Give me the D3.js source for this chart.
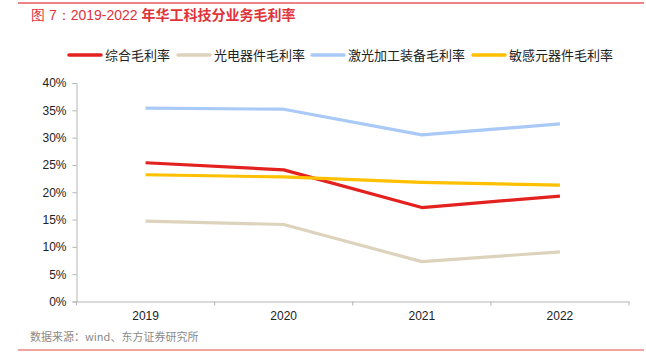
<!DOCTYPE html>
<html><head><meta charset="utf-8">
<script src="https://cdn.jsdelivr.net/npm/d3@7/dist/d3.min.js"></script>
<style>body{margin:0;background:#fff;}svg{display:block;font-family:"Noto Sans CJK SC","Liberation Sans",Arial,sans-serif;}</style>
</head><body><svg id="c" width="646" height="357"></svg>
<script>
const categories = ["2019","2020","2021","2022"];
const seriesNames = ["综合毛利率","光电器件毛利率","激光加工装备毛利率","敏感元器件毛利率"];
const seriesColors = ["#e3211e","#ddd3bc","#a9c9f7","#ffc000"];
const zonghe = [25.4, 24.1, 17.2, 19.3];
const guangdian = [14.7, 14.1, 7.3, 9.1];
const jiguang = [35.4, 35.2, 30.5, 32.5];
const mingan = [23.2, 22.8, 21.8, 21.3];
const yTicks = [0,5,10,15,20,25,30,35,40];
const series = [zonghe, guangdian, jiguang, mingan];

const svg = d3.select("#c");
// top & bottom rules
svg.append("line").attr("x1",18).attr("x2",644).attr("y1",3).attr("y2",3).attr("stroke","#e85a5a").attr("stroke-width",1.5);
svg.append("line").attr("x1",18).attr("x2",644).attr("y1",350).attr("y2",350).attr("stroke","#f2a3a0").attr("stroke-width",2);
const title = svg.append("text").attr("x",31).attr("y",20).attr("fill","#e0333a").attr("font-size",14);
title.append("tspan").attr("font-family","Liberation Sans, Arial, sans-serif").text("图 7：2019-2022 ");
title.append("tspan").attr("font-weight","bold").text("年华工科技分业务毛利率");
svg.append("text").attr("x",30).attr("y",341).attr("fill","#8a8a8a").attr("font-size",11).text("数据来源：wind、东方证券研究所");

const x = d3.scaleBand().domain(categories).range([76.5,629]);
const y = d3.scaleLinear().domain([0,40]).range([301.5,83]);

const gx = svg.append("g").attr("transform","translate(0,301.5)")
  .call(d3.axisBottom(x).tickSize(0).tickPadding(10));
gx.select(".domain").attr("stroke","#b5b5b5");
gx.selectAll("text").attr("font-size",12).attr("fill","#222").attr("font-family","Liberation Sans, Arial, sans-serif");
// category boundary ticks
const bounds = categories.map(c=>x(c)).concat([x.range()[1]]);
gx.selectAll(".bt").data(bounds).enter().append("line").attr("x1",d=>d).attr("x2",d=>d).attr("y1",0).attr("y2",4).attr("stroke","#b5b5b5");

const gy = svg.append("g").attr("transform","translate(76.5,0)")
  .call(d3.axisLeft(y).tickValues(yTicks).tickFormat(d=>d+"%").tickSize(4).tickPadding(6));
gy.select(".domain").attr("stroke","#b5b5b5");
gy.selectAll(".tick line").attr("stroke","#b5b5b5");
gy.selectAll("text").attr("font-size",12).attr("fill","#222").attr("font-family","Liberation Sans, Arial, sans-serif");

const line = d3.line().x((d,i)=>x(categories[i])+x.bandwidth()/2).y(d=>y(d));
series.forEach((s,k)=>{
  svg.append("path").datum(s).attr("d",line).attr("fill","none").attr("stroke",seriesColors[k]).attr("stroke-width",3.2).attr("stroke-linejoin","round");
});

// legend
const legX = [69,178,312,473];
seriesNames.forEach((n,k)=>{
  svg.append("line").attr("x1",legX[k]).attr("x2",legX[k]+32).attr("y1",55).attr("y2",55).attr("stroke",seriesColors[k]).attr("stroke-width",3.5).attr("stroke-linecap","round");
  svg.append("text").attr("x",legX[k]+36).attr("y",60).attr("font-size",13).attr("fill","#222").text(n);
});
</script></body></html>
